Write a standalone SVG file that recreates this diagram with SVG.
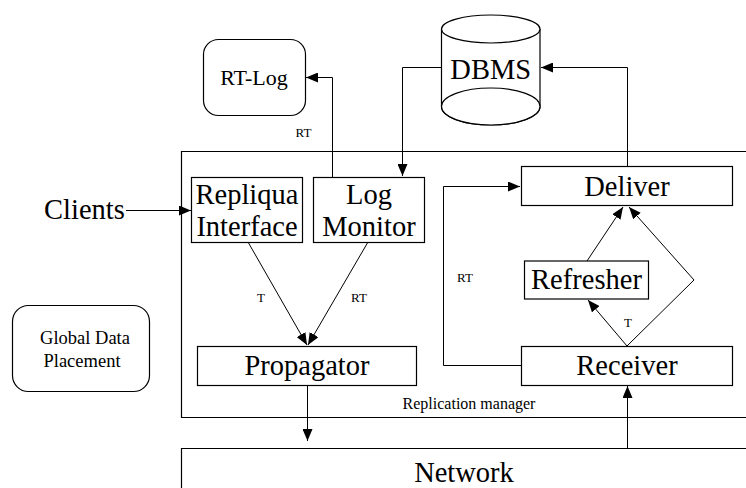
<svg xmlns="http://www.w3.org/2000/svg" width="746" height="488" viewBox="0 0 746 488">
  <style>
    .box { fill: #fff; stroke: #000; stroke-width: 1.2; }
    .frame { fill: none; stroke: #000; stroke-width: 1.2; }
    .wire { fill: none; stroke: #000; stroke-width: 1; }
    .arr { marker-end: url(#head); }
    text { fill: #000; text-anchor: middle; font-family: "Liberation Serif", "Times New Roman", serif; }
    .big { font-size: 28.5px; }
    .log { font-size: 22px; }
    .mid { font-size: 18.5px; }
    .lab { font-size: 13px; }
    .cap { font-size: 16px; }
  </style>
  <defs>
    <marker id="head" viewBox="0 0 12 10" refX="12" refY="5" markerWidth="12" markerHeight="10" markerUnits="userSpaceOnUse" orient="auto">
      <path d="M0,0 L12,5 L0,10 Z" fill="#000"/>
    </marker>
  </defs>
  <rect width="746" height="488" fill="#fff"/>

  <!-- outer frames -->
  <g id="replication-manager">
    <path class="frame" d="M747,151.5 H181.5 V417.5 H747"/>
    <text class="cap" x="469" y="409">Replication manager</text>
  </g>
  <g id="network">
    <path class="frame" d="M747,448.5 H181.5 V490"/>
    <text class="big" x="464" y="482">Network</text>
  </g>

  <!-- connectors -->
  <g id="connectors">
    <path class="wire arr" d="M126,210.5 H191"/>
    <path class="wire arr" d="M332.5,177 V77.5 H306"/>
    <path class="wire arr" d="M441,67.5 H402.5 V176"/>
    <path class="wire arr" d="M627.5,166 V67.5 H541"/>
    <path class="wire arr" d="M248,242 L307,345"/>
    <path class="wire arr" d="M368,242 L308,345"/>
    <path class="wire arr" d="M307.5,385 V441"/>
    <path class="wire arr" d="M627.5,448 V386"/>
    <path class="wire arr" d="M521,365.5 H443.5 V186.5 H520"/>
    <path class="wire arr" d="M627,346 L588,300"/>
    <path class="wire arr" d="M587,261 L623,207"/>
    <path class="wire arr" d="M627,346 L694,280 L629,207"/>
    <text class="lab" x="303.5" y="137">RT</text>
    <text class="lab" x="261" y="302">T</text>
    <text class="lab" x="359" y="302">RT</text>
    <text class="lab" x="465" y="282">RT</text>
    <text class="lab" x="628" y="327">T</text>
  </g>

  <!-- nodes -->
  <g id="clients">
    <text class="big" x="84.5" y="219">Clients</text>
  </g>
  <g id="global-data-placement">
    <rect class="box" x="12.5" y="305.5" width="137" height="86" rx="16"/>
    <text class="mid" x="85" y="344">Global Data</text>
    <text class="mid" x="82" y="367">Placement</text>
  </g>
  <g id="rt-log">
    <rect class="box" x="203.5" y="39.5" width="102" height="76" rx="15"/>
    <text class="log" x="254" y="85">RT-Log</text>
  </g>
  <g id="dbms">
    <path class="box" d="M441.5,29 V106.5 A49.25,18.5 0 0 0 540,106.5 V29"/>
    <ellipse class="box" cx="490.75" cy="106.5" rx="49.25" ry="18.5"/>
    <ellipse class="box" cx="490.75" cy="29" rx="49.25" ry="14"/>
    <text class="big" x="490.75" y="79">DBMS</text>
  </g>
  <g id="repliqua-interface">
    <rect class="box" x="191.5" y="177.5" width="111" height="65"/>
    <text class="big" x="247" y="204">Repliqua</text>
    <text class="big" x="247" y="236">Interface</text>
  </g>
  <g id="log-monitor">
    <rect class="box" x="313.5" y="177.5" width="111" height="65"/>
    <text class="big" x="369" y="204">Log</text>
    <text class="big" x="369" y="236">Monitor</text>
  </g>
  <g id="propagator">
    <rect class="box" x="197.5" y="346.5" width="219" height="39"/>
    <text class="big" x="307" y="375">Propagator</text>
  </g>
  <g id="deliver">
    <rect class="box" x="521.5" y="166.5" width="211" height="39"/>
    <text class="big" x="627" y="196">Deliver</text>
  </g>
  <g id="refresher">
    <rect class="box" x="524.5" y="261" width="124" height="38"/>
    <text class="big" x="586.5" y="289">Refresher</text>
  </g>
  <g id="receiver">
    <rect class="box" x="521.5" y="346.5" width="211" height="39"/>
    <text class="big" x="627" y="375">Receiver</text>
  </g>
</svg>
